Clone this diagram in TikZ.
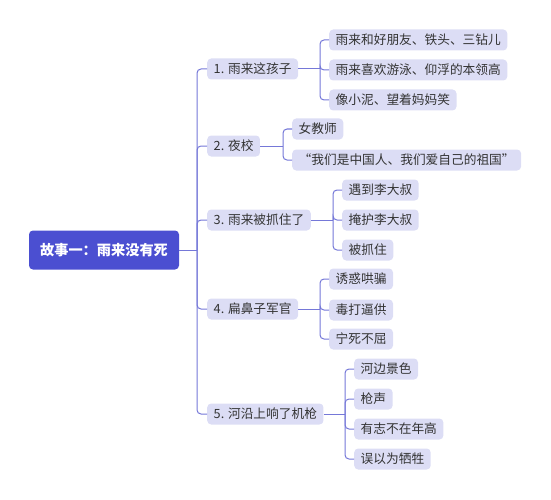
\documentclass[tikz,border=0pt]{standalone}
\usepackage{fontspec}
\setmainfont{Noto Sans CJK SC}
\definecolor{rootblue}{HTML}{4B4FD1}
\definecolor{lavender}{HTML}{DCDDF5}
\definecolor{linkblue}{HTML}{7578D8}
\definecolor{inkgray}{HTML}{333333}
\begin{document}
\begin{tikzpicture}[x=1pt, y=-1pt,
    root/.style={rectangle, rounded corners=4pt, fill=rootblue,
      text=white, font=\fontsize{14.2}{16}\selectfont\bfseries,
      minimum width=150pt, minimum height=39pt},
    topic/.style={rectangle, rounded corners=4pt, fill=lavender,
      text=inkgray, font=\fontsize{12.7}{14}\selectfont,
      inner xsep=6.5pt, inner ysep=0pt, minimum height=21pt, anchor=west},
    leaf/.style={topic},
    line/.style={draw=linkblue, line width=1pt, rounded corners=4pt}
  ]
    \useasboundingbox (0,0) rectangle (551,500);

    % Tema central
    \node[root] (story) at (104, 250) {故事一：雨来没有死};
    \coordinate (trunk) at (197, 250);

    % Temas
    \node[topic] (t1) at (207, 69) {1. 雨来这孩子};
    \node[topic] (t2) at (207, 146) {2. 夜校};
    \node[topic] (t3) at (207, 220) {3. 雨来被抓住了};
    \node[topic] (t4) at (207, 309) {4. 扁鼻子军官};
    \node[topic] (t5) at (207, 414) {5. 河沿上响了机枪};

    % Subtemas
    \node[leaf] (t1a) at (329, 40) {雨来和好朋友、铁头、三钻儿};
    \node[leaf] (t1b) at (329, 70) {雨来喜欢游泳、仰浮的本领高};
    \node[leaf] (t1c) at (329, 100) {像小泥、望着妈妈笑};

    \node[leaf] (t2a) at (292, 129) {女教师};
    \node[leaf] (t2b) at (292, 160) {“我们是中国人、我们爱自己的祖国”};

    \node[leaf] (t3a) at (342, 190) {遇到李大叔};
    \node[leaf] (t3b) at (342, 220) {掩护李大叔};
    \node[leaf] (t3c) at (342, 250) {被抓住};

    \node[leaf] (t4a) at (329, 279) {诱惑哄骗};
    \node[leaf] (t4b) at (329, 310) {毒打逼供};
    \node[leaf] (t4c) at (329, 339) {宁死不屈};

    \node[leaf] (t5a) at (354, 369) {河边景色};
    \node[leaf] (t5b) at (354, 399) {枪声};
    \node[leaf] (t5c) at (354, 429) {有志不在年高};
    \node[leaf] (t5d) at (354, 459) {误以为牺牲};

    % Puntos de rama
    \coordinate (b1) at (320, 69);
    \coordinate (b2) at (283, 146);
    \coordinate (b3) at (333, 220);
    \coordinate (b4) at (320, 309);
    \coordinate (b5) at (345, 414);

    % Conexiones
    \draw[line] (story.east) -- (trunk);
    \foreach \t in {t1, t2, t3, t4, t5}
      \draw[line] (trunk) |- (\t.west);

    \draw[line] (t1.east) -- (b1);
    \foreach \s in {t1a, t1b, t1c}
      \draw[line] (b1) |- (\s.west);
    \draw[line] (t2.east) -- (b2);
    \foreach \s in {t2a, t2b}
      \draw[line] (b2) |- (\s.west);
    \draw[line] (t3.east) -- (b3);
    \foreach \s in {t3a, t3b, t3c}
      \draw[line] (b3) |- (\s.west);
    \draw[line] (t4.east) -- (b4);
    \foreach \s in {t4a, t4b, t4c}
      \draw[line] (b4) |- (\s.west);
    \draw[line] (t5.east) -- (b5);
    \foreach \s in {t5a, t5b, t5c, t5d}
      \draw[line] (b5) |- (\s.west);
  \end{tikzpicture}
\end{document}
